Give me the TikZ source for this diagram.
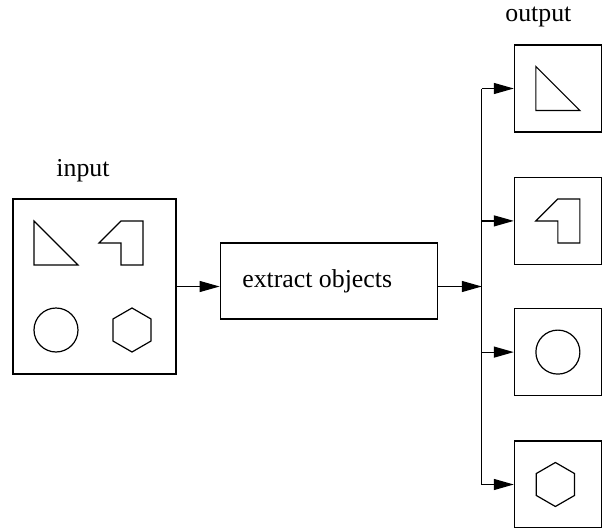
\documentclass[tikz,border=0pt]{standalone}
\usepackage{fontspec}
\setmainfont{Liberation Serif}
\usetikzlibrary{positioning,arrows.meta}

\begin{document}
\begin{tikzpicture}[line width=0.6pt, font=\fontsize{12.9}{15}\selectfont,
		box/.style = {draw, inner sep=0pt},
		inbox/.style = {box, minimum width=81.5pt, minimum height=87.5pt},
		outbox/.style = {box, minimum size=43.5pt},
		arr/.style = {-{Triangle[length=10pt,width=5.5pt]}},
		tri/.pic = {\draw (-11pt,11pt) -- (-11pt,-11pt) -- (11pt,-11pt) -- cycle;},
		notch/.pic = {\draw (-11pt,0pt) -- (0pt,11pt) -- (11pt,11pt) -- (11pt,-11pt) -- (0pt,-11pt) -- (0pt,0pt) -- cycle;},
		hexa/.pic = {\draw (90:11pt) \foreach \a in {150,210,270,330,390} {-- (\a:11pt)} -- cycle;}]
		\useasboundingbox (-47.25pt,-120.25pt) rectangle (253.75pt,143.25pt);
		\node[inbox] (in) {};
		\node[box, minimum width=108.5pt, minimum height=38pt, right=21.5pt of in, yshift=2.75pt,
			label={[xshift=-5.75pt]center:extract objects}] (ext) {};
		\coordinate[right=22pt of ext.east, yshift=-2.75pt] (bus);
		\node[outbox, right=16pt of bus, yshift=32.8pt] (o2) {};
		\node[outbox, above=22.1pt of o2] (o1) {};
		\node[outbox, right=16pt of bus, yshift=-32.8pt] (o3) {};
		\node[outbox, below=22.1pt of o3] (o4) {};
		\node[anchor=base] (inlbl) at ([xshift=-5.75pt, yshift=11pt]in.north) {input};
		\node[anchor=base] (outlbl) at ([xshift=-9.75pt, yshift=11.35pt]o1.north) {output};
		% objects in the input
		\pic at ([shift={(-19.25pt,21.75pt)}]in.center) {tri};
		\pic at ([shift={(13.25pt,21.75pt)}]in.center) {notch};
		\draw ([shift={(-19.25pt,-21.75pt)}]in.center) circle (11pt);
		\pic at ([shift={(18.75pt,-21.75pt)}]in.center) {hexa};
		% objects in the outputs
		\pic at (o1) {tri};
		\pic at (o2) {notch};
		\draw (o3) circle (11pt);
		\pic at ([xshift=-1.25pt]o4.center) {hexa};
		\draw[arr] (in.east) -- (in.east -| ext.west);
		\draw[arr] (ext.east |- bus) -- (bus);
		\draw (bus |- o1.west) -- (bus |- o4.west);
		\foreach \o in {o1,o2,o3,o4}
			\draw[arr] (bus |- \o.west) -- (\o.west);
\end{tikzpicture}
\end{document}
